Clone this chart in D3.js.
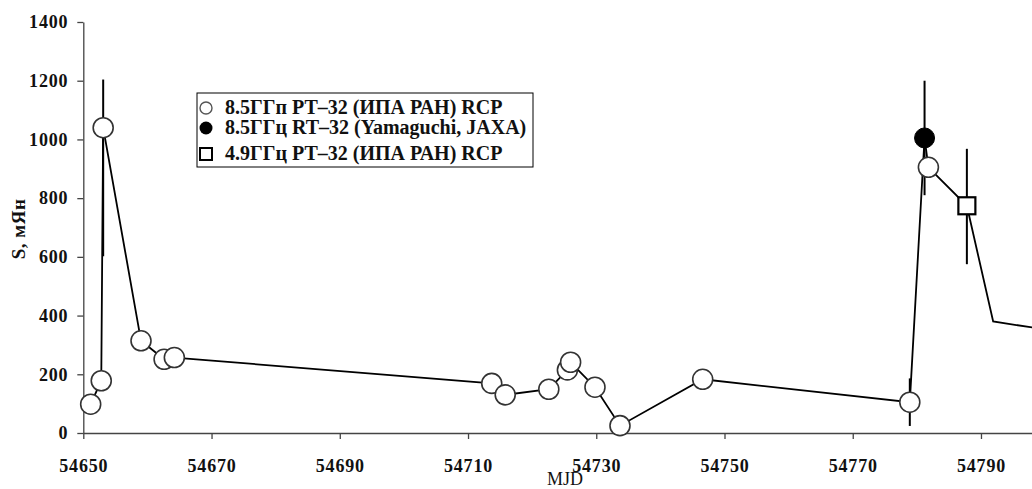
<!DOCTYPE html>
<html>
<head>
<meta charset="utf-8">
<script src="https://cdn.jsdelivr.net/npm/d3@7"></script>
<style>
  body { margin: 0; background: #fff; }
  svg { display: block; }
  text { font-family: "Liberation Serif", serif; }
</style>
</head>
<body>
<svg id="chart"></svg>
<script>
var width = 1032,
    height = 489;

// 8.5 GHz RT-32 (IPA RAN) RCP - open circles
const mjd85 = [54651.15, 54652.8, 54653.1, 54659.0, 54662.6, 54664.2, 54713.7, 54715.8,
               54722.6, 54725.5, 54726.0, 54729.8, 54733.7, 54746.6, 54778.9, 54781.8];
const flux85 = [98, 178, 1040, 314, 251, 257, 169, 130,
                149, 215, 241, 156, 25, 183, 105, 905];
// error bars [low, high], null where none drawn
const err85 = [null, null, [602, 1204], null, null, null, null, null,
               null, null, null, null, null, null, [24, 186], null];

// 8.5 GHz RT-32 (Yamaguchi, JAXA) - filled circle
const mjdYam = [54781.2];
const fluxYam = [1005];
const errYam = [[810, 1200]];

// 4.9 GHz RT-32 (IPA RAN) RCP - square
const mjd49 = [54787.8];
const flux49 = [774];
const err49 = [[575, 968]];

// later points of the light curve, line only
const mjdTail = [54791.9, 54798.7];
const fluxTail = [380, 357];

const xTicks = [54650, 54670, 54690, 54710, 54730, 54750, 54770, 54790];
const yTicks = [0, 200, 400, 600, 800, 1000, 1200, 1400];

const legendLabels = ["8.5ГГп РТ–32 (ИПА РАН) RCP",
                      "8.5ГГц RT–32 (Yamaguchi, JAXA)",
                      "4.9ГГц РТ–32 (ИПА РАН) RCP"];

const svg = d3.select("#chart")
  .attr("width", width)
  .attr("height", height);

var x = d3.scaleLinear()
  .domain([54650, 54810])
  .range([83.3, 83.3 + 160 * 6.412]);

var y = d3.scaleLinear()
  .domain([0, 1400])
  .range([433, 22]);

// axes
var xAxis = svg.append("g")
  .attr("transform", "translate(0," + y(0) + ")")
  .call(d3.axisBottom(x).tickValues(xTicks).tickFormat(d3.format("d")).tickSize(6).tickSizeOuter(0).tickPadding(20));

var yAxis = svg.append("g")
  .attr("transform", "translate(" + x(54650) + ",0)")
  .call(d3.axisLeft(y).tickValues(yTicks).tickFormat(d3.format("d")).tickSize(6).tickSizeOuter(0).tickPadding(9));

[xAxis, yAxis].forEach(function (ax) {
  ax.select(".domain").attr("stroke", "#444").attr("stroke-width", 1.3);
  ax.selectAll(".tick line").attr("stroke", "#444").attr("stroke-width", 1.3);
  ax.selectAll(".tick text")
    .attr("fill", "#111")
    .style("font-family", "Liberation Serif, serif")
    .style("font-weight", "bold")
    .style("font-size", "18px")
    .style("letter-spacing", "0.8px");
});

svg.append("text")
  .attr("x", 565)
  .attr("y", 485)
  .attr("text-anchor", "middle")
  .style("font-size", "18px")
  .attr("fill", "#111")
  .text("MJD");

svg.append("text")
  .attr("transform", "translate(25,229) rotate(-90)")
  .attr("text-anchor", "middle")
  .style("font-size", "19px")
  .style("font-weight", "bold")
  .style("letter-spacing", "0.5px")
  .attr("fill", "#111")
  .text("S, мЯн");

// connecting line through all points in time order
var allPts = [];
mjd85.forEach((d, i) => allPts.push([d, flux85[i]]));
mjdYam.forEach((d, i) => allPts.push([d, fluxYam[i]]));
mjd49.forEach((d, i) => allPts.push([d, flux49[i]]));
mjdTail.forEach((d, i) => allPts.push([d, fluxTail[i]]));
allPts.sort((a, b) => a[0] - b[0]);

var line = d3.line()
  .x(d => x(d[0]))
  .y(d => y(d[1]));

svg.append("path")
  .datum(allPts)
  .attr("d", line)
  .attr("fill", "none")
  .attr("stroke", "#000")
  .attr("stroke-width", 1.8);

// error bars
function errBars(mjds, errs) {
  var rows = [];
  mjds.forEach((d, i) => { if (errs[i]) rows.push({ m: d, lo: errs[i][0], hi: errs[i][1] }); });
  svg.append("g").selectAll("line")
    .data(rows)
    .enter().append("line")
    .attr("x1", d => x(d.m))
    .attr("x2", d => x(d.m))
    .attr("y1", d => y(d.lo))
    .attr("y2", d => y(d.hi))
    .attr("stroke", "#000")
    .attr("stroke-width", 2);
}
errBars(mjd85, err85);
errBars(mjdYam, errYam);
errBars(mjd49, err49);

// markers
svg.append("g").selectAll("circle")
  .data(mjd85.map((d, i) => [d, flux85[i]]))
  .enter().append("circle")
  .attr("cx", d => x(d[0]))
  .attr("cy", d => y(d[1]))
  .attr("r", 10)
  .attr("fill", "#fff")
  .attr("stroke", "#333")
  .attr("stroke-width", 1.6);

svg.append("g").selectAll("circle")
  .data(mjdYam.map((d, i) => [d, fluxYam[i]]))
  .enter().append("circle")
  .attr("cx", d => x(d[0]))
  .attr("cy", d => y(d[1]))
  .attr("r", 10)
  .attr("fill", "#000")
  .attr("stroke", "#000")
  .attr("stroke-width", 1);

svg.append("g").selectAll("rect")
  .data(mjd49.map((d, i) => [d, flux49[i]]))
  .enter().append("rect")
  .attr("x", d => x(d[0]) - 8.5)
  .attr("y", d => y(d[1]) - 8.5)
  .attr("width", 17)
  .attr("height", 17)
  .attr("fill", "#fff")
  .attr("stroke", "#000")
  .attr("stroke-width", 2.2);

// legend
var legend = svg.append("g");
legend.append("rect")
  .attr("x", 197).attr("y", 93)
  .attr("width", 336).attr("height", 74)
  .attr("fill", "#fff")
  .attr("stroke", "#000")
  .attr("stroke-width", 1);

var rowY = [108, 128, 154];
var baseY = [113.5, 133.5, 160];

legend.append("circle")
  .attr("cx", 206).attr("cy", rowY[0]).attr("r", 6)
  .attr("fill", "#fff").attr("stroke", "#555").attr("stroke-width", 1.4);
legend.append("circle")
  .attr("cx", 206).attr("cy", rowY[1]).attr("r", 6.5)
  .attr("fill", "#000");
legend.append("rect")
  .attr("x", 200).attr("y", rowY[2] - 6).attr("width", 12).attr("height", 12)
  .attr("fill", "#fff").attr("stroke", "#000").attr("stroke-width", 2);

legend.selectAll("text.lbl")
  .data(legendLabels)
  .enter().append("text")
  .attr("class", "lbl")
  .attr("x", 225)
  .attr("y", (d, i) => baseY[i])
  .style("font-size", "20px")
  .style("font-weight", "bold")
  .attr("fill", "#111")
  .text(d => d);
</script>
</body>
</html>
